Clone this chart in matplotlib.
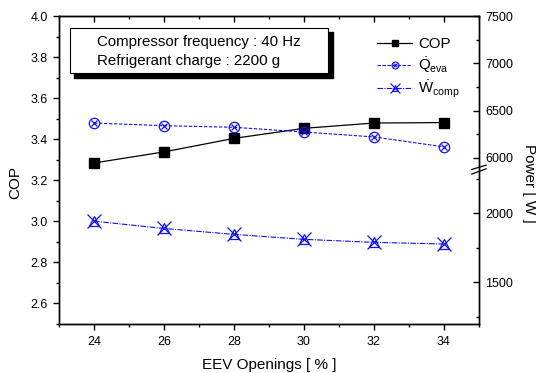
import numpy as np
import matplotlib
matplotlib.use("Agg")
import matplotlib.pyplot as plt
from matplotlib.ticker import MultipleLocator, FixedLocator, FormatStrFormatter, NullFormatter
from matplotlib.patches import Rectangle
from matplotlib.lines import Line2D

plt.rcParams['font.family'] = ['Liberation Sans', 'DejaVu Sans']
plt.rcParams['mathtext.fontset'] = 'custom'
plt.rcParams['mathtext.rm'] = 'Liberation Sans'
plt.rcParams['mathtext.it'] = 'Liberation Sans:italic'

# datos
openings = [24, 26, 28, 30, 32, 34]
cop = [3.283, 3.337, 3.403, 3.452, 3.478, 3.480]
q_eva = [6368, 6340, 6323, 6273, 6221, 6116]
w_comp = [1944, 1891, 1848, 1812, 1790, 1778]

power_major = [1500, 2000, 6000, 6500, 7000, 7500]
power_minor = [1250, 1750, 2250, 6250, 6750, 7250]

# eje de potencia con corte: tramo bajo 1200-2300, tramo alto 5900-7500
P_KN = [1200, 2300, 5900, 7500]
F_KN = [0.0, 0.492, 0.508, 1.0]

def fwd(p):
    return np.interp(p, P_KN, F_KN)

def inv(f):
    return np.interp(f, F_KN, P_KN)

fig = plt.figure(figsize=(5.36, 3.73), dpi=100)
ax = fig.add_axes([0.110, 0.1327, 0.7836, 0.8244])
ax2 = ax.twinx()

ax.set_xlim(23, 35)
ax.set_ylim(2.5, 4.0)
ax.xaxis.set_major_locator(MultipleLocator(2))
ax.xaxis.set_minor_locator(MultipleLocator(1))
ax.yaxis.set_major_locator(MultipleLocator(0.2))
ax.yaxis.set_minor_locator(MultipleLocator(0.1))
ax.yaxis.set_major_formatter(FormatStrFormatter('%.1f'))
ax.tick_params(which='major', direction='out', length=4, width=1, labelsize=9)
ax.tick_params(axis='y', which='major', pad=4)
ax.tick_params(axis='x', which='major', pad=5)
ax.tick_params(which='minor', direction='out', length=2.5, width=1)

top = ax.secondary_xaxis('top')
top.xaxis.set_major_locator(MultipleLocator(2))
top.xaxis.set_minor_locator(MultipleLocator(1))
top.tick_params(which='major', direction='in', length=4, width=1, labeltop=False)
top.tick_params(which='minor', direction='in', length=2.5, width=1)

ax2.set_yscale('function', functions=(fwd, inv))
ax2.set_ylim(1200, 7500)
ax2.yaxis.set_major_locator(FixedLocator(power_major))
ax2.yaxis.set_minor_locator(FixedLocator(power_minor))
ax2.yaxis.set_major_formatter(FormatStrFormatter('%d'))
ax2.yaxis.set_minor_formatter(NullFormatter())
ax2.tick_params(which='major', direction='in', length=4, width=1, labelsize=9, pad=4.5)
ax2.tick_params(which='minor', direction='in', length=2.5, width=1)

for a in (ax, ax2):
    for s in a.spines.values():
        s.set_linewidth(1.0)

# series
ax.plot(openings, cop, color='black', lw=0.9, marker='s', ms=7, mfc='black', mec='black', zorder=5)

blue = '#1010ff'
ax2.plot(openings, q_eva, color=blue, lw=0.8, ls=(0, (3, 1.5)))
ax2.plot(openings, q_eva, ls='none', marker='o', ms=7.5, mfc='none', mec=blue, mew=0.9)
ax2.plot(openings, q_eva, ls='none', marker='x', ms=5, mec=blue, mew=0.9)

ax2.plot(openings, w_comp, color=blue, lw=0.8, ls=(0, (5, 1.2, 1, 1.2)))
ax2.plot(openings, w_comp, ls='none', marker='x', ms=9.5, mec=blue, mew=0.9)
ax2.plot(openings, w_comp, ls='none', marker='^', ms=7, mfc='none', mec=blue, mew=0.9)

# marcas de corte en el eje derecho
for y0, y1 in [(0.501, 0.515), (0.486, 0.503)]:
    ax2.plot([0.983, 1.017], [y0, y1], color='black', lw=0.9,
             transform=ax2.transAxes, clip_on=False)

# caja de texto con sombra
ax.add_patch(Rectangle((0.036, 0.798), 0.616, 0.150, transform=ax.transAxes,
                       facecolor='black', edgecolor='black', zorder=6))
ax.add_patch(Rectangle((0.026, 0.815), 0.614, 0.146, transform=ax.transAxes,
                       facecolor='white', edgecolor='black', lw=0.8, zorder=7))
ax.text(0.090, 0.915, 'Compressor frequency : 40 Hz', transform=ax.transAxes,
        fontsize=10.8, va='center', ha='left', zorder=8)
ax.text(0.090, 0.854, 'Refrigerant charge : 2200 g', transform=ax.transAxes,
        fontsize=10.8, va='center', ha='left', zorder=8)

# leyenda
h_cop = Line2D([], [], color='black', lw=0.9, marker='s', ms=5, mfc='black')
h_q = (Line2D([], [], color=blue, lw=0.8, ls=(0, (3, 1.5)), marker='o', ms=5, mfc='none', mec=blue, mew=0.8),
       Line2D([], [], ls='none', marker='x', ms=3.5, mec=blue, mew=0.8))
h_w = (Line2D([], [], color=blue, lw=0.8, ls=(0, (5, 1.2, 1, 1.2)), marker='x', ms=7, mec=blue, mew=0.8),
       Line2D([], [], ls='none', marker='^', ms=5, mfc='none', mec=blue, mew=0.8))
ax2.legend([h_cop, h_q, h_w],
           ['COP', r'$\dot{\mathrm{Q}}_{\mathrm{eva}}$', r'$\dot{\mathrm{W}}_{\mathrm{comp}}$'],
           loc='upper left', bbox_to_anchor=(0.74, 0.955), frameon=False, borderpad=0,
           fontsize=10.8, handlelength=2.3, handletextpad=0.4, labelspacing=0.25)

ax.set_xlabel('EEV Openings [ % ]', fontsize=11, labelpad=7)
ax.set_ylabel('COP', fontsize=11)
ax.yaxis.set_label_coords(-0.088, 0.458)
ax2.set_ylabel('Power [ W ]', fontsize=11, rotation=-90)
ax2.yaxis.set_label_coords(1.135, 0.455)

fig.savefig('out.png', dpi=100)
